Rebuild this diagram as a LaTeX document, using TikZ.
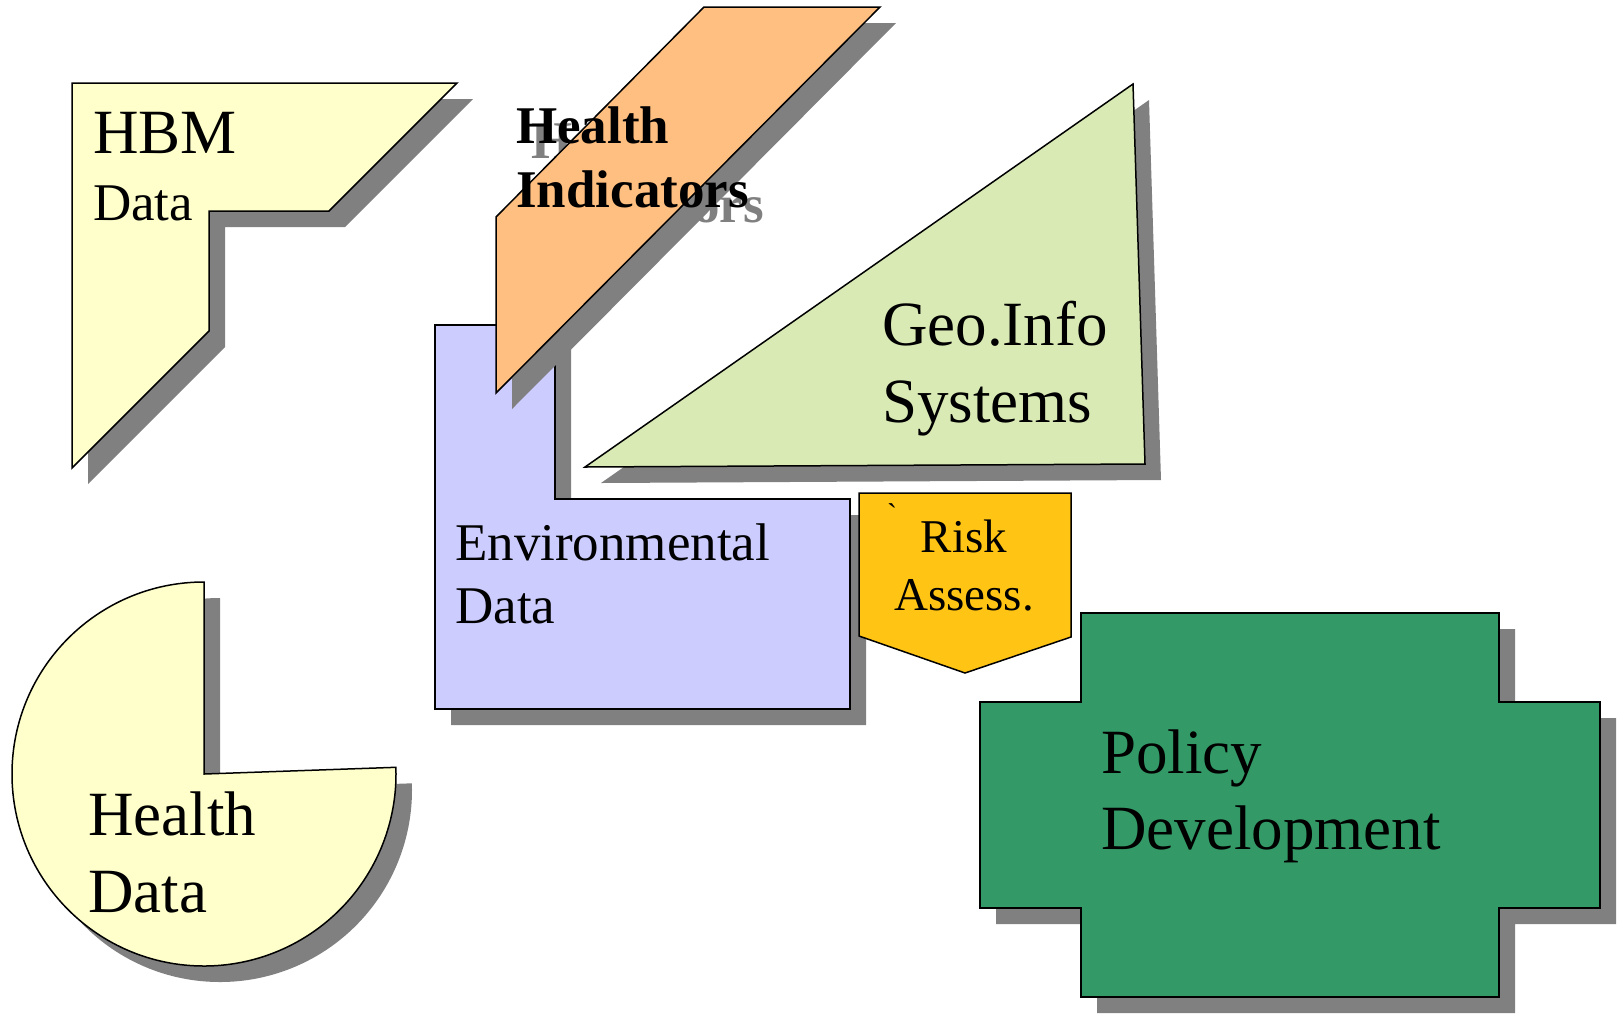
\documentclass[tikz,border=0pt]{standalone}
\usepackage{fontspec}
\setmainfont{Liberation Serif}
\usetikzlibrary{shadows}
\definecolor{pale}{RGB}{255,255,204}
\definecolor{orng}{RGB}{255,191,128}
\definecolor{lgreen}{RGB}{217,234,181}
\definecolor{lav}{RGB}{204,204,255}
\definecolor{gold}{RGB}{255,196,20}
\definecolor{dgreen}{RGB}{51,153,102}
\definecolor{shadowgray}{RGB}{128,128,128}
\begin{document}
\begin{tikzpicture}[x=1pt,y=-1pt,
  outl/.style={draw=black,line width=1.5pt,line join=miter},
  shad/.style={drop shadow={shadow xshift=16pt,shadow yshift=-16pt,fill=shadowgray,opacity=1}},
  lbl/.style={anchor=base west,align=left,inner sep=0pt}]
\path[use as bounding box] (0,0) rectangle (1621,1013);

% Health Data pie
\draw[outl,fill=pale,shad] (204,774) -- (204,582) arc[start angle=-90,end angle=-362,radius=192] -- cycle;
\node[lbl,font=\fontsize{63}{77}\selectfont] (healthdata) at (88,912) {Health\\Data};

% HBM Data
\draw[outl,fill=pale,shad] (72,83) -- (457,83) -- (329,211) -- (209,211) -- (209,331) -- (72,468) -- cycle;
\node[lbl,font=\fontsize{63}{76}\selectfont] (hbm) at (93,153) {HBM};
\node[lbl,font=\fontsize{53}{63}\selectfont] (hbmdata) at (93,220) {Data};

% Environmental Data
\draw[outl,fill=lav,shad] (435,325) -- (555,325) -- (555,499) -- (850,499) -- (850,709) -- (435,709) -- cycle;
\node[lbl,font=\fontsize{53}{63}\selectfont] (env) at (455,623) {Environmental\\Data};

% Geo.Info Systems
\draw[outl,fill=lgreen,shad] (1133,84) -- (1145,464) -- (585,467) -- cycle;
\node[lbl,font=\fontsize{63}{77}\selectfont] (geo) at (882,422) {Geo.Info\\Systems};

% Health Indicators
\node[lbl,font=\bfseries\fontsize{53}{64}\selectfont,text=shadowgray] (hishadow) at (531,222) {Health\\Indicators};
\draw[outl,fill=orng,shad] (704,7) -- (880,7) -- (496,393) -- (496,217) -- cycle;
\node[lbl,font=\bfseries\fontsize{53}{64}\selectfont] (hi) at (516,207) {Health\\Indicators};

% Risk Assess.
\draw[outl,fill=gold] (859,493) -- (1071,493) -- (1071,637) -- (965,673) -- (859,636) -- cycle;
\node[anchor=base,align=center,inner sep=0pt,font=\fontsize{47}{58}\selectfont] (risk) at (964,610) {Risk\\Assess.};
\node[anchor=center,inner sep=0pt,font=\fontsize{30}{30}\selectfont] (tick) at (892,514) {\textasciigrave};

% Policy Development
\draw[outl,fill=dgreen,shad] (1081,613) -- (1499,613) -- (1499,702) -- (1600,702) -- (1600,908) -- (1499,908) -- (1499,997) -- (1081,997) -- (1081,908) -- (980,908) -- (980,702) -- (1081,702) -- cycle;
\node[lbl,font=\fontsize{63}{76}\selectfont] (policy) at (1101,849) {Policy\\Development};
\end{tikzpicture}
\end{document}
